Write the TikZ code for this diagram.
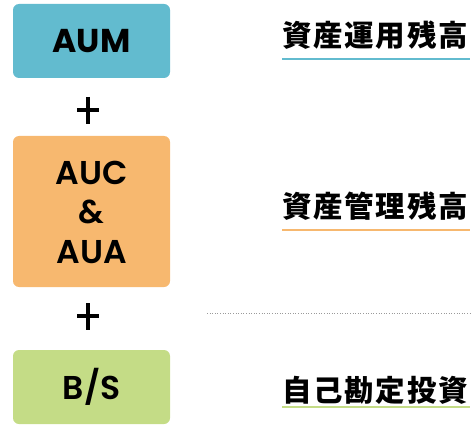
\documentclass[tikz,border=0pt]{standalone}
\usepackage{fontspec}
\setmainfont{Poppins}
\newfontfamily\popmed{Poppins SemiBold}
\newfontfamily\jp{Noto Sans CJK JP}[LetterSpace=6]
\definecolor{cblue}{HTML}{62BBCF}
\definecolor{corange}{HTML}{F7B86F}
\definecolor{cgreen}{HTML}{C4DC86}
\definecolor{cdot}{HTML}{9A9A9A}
\begin{document}
\begin{tikzpicture}[x=1pt,y=-1pt,
  boxst/.style={rounded corners=6pt,draw=none},
  boxtxt/.style={font=\fontsize{33}{39}\selectfont\bfseries,align=center,inner sep=0pt},
  boxtxtm/.style={font=\popmed\fontsize{33}{39.5}\selectfont,align=center,inner sep=0pt},
  jptxt/.style={font=\jp\fontsize{29.5}{30}\selectfont\bfseries,anchor=west,inner sep=0pt},
  plusst/.style={line width=3.2pt,black}]
\useasboundingbox (0,0) rectangle (471,425);
% boxes
\fill[boxst,cblue] (13,4) rectangle (170,78);
\node[boxtxt] (aum) at (91.5,41.5) {AUM};
\fill[boxst,corange] (13,136) rectangle (170,287);
\node[boxtxtm] (auc) at (91.5,212) {AUC\\\&\\AUA};
\fill[boxst,cgreen] (13,350) rectangle (170,424);
\node[boxtxtm] (bs) at (91.5,387) {B/S};
% plus signs
\draw[plusst] (77,110) -- (99,110) (88,97) -- (88,124);
\draw[plusst] (77,316) -- (99,316) (88,303) -- (88,330);
% dotted separator
\draw[cdot,line width=0.6pt,dotted] (207,313) -- (471,313);
% right texts
\node[jptxt] (t1) at (282,35) {資産運用残高};
\draw[cblue,line width=2pt] (282,59) -- (470,59);
\node[jptxt] (t2) at (282,206.5) {資産管理残高};
\draw[corange,line width=1.5pt] (282,230) -- (470,230);
\node[jptxt] (t3) at (282,390) {自己勘定投資};
\draw[cgreen,line width=2pt] (282,407) -- (470,407);
\end{tikzpicture}
\end{document}
